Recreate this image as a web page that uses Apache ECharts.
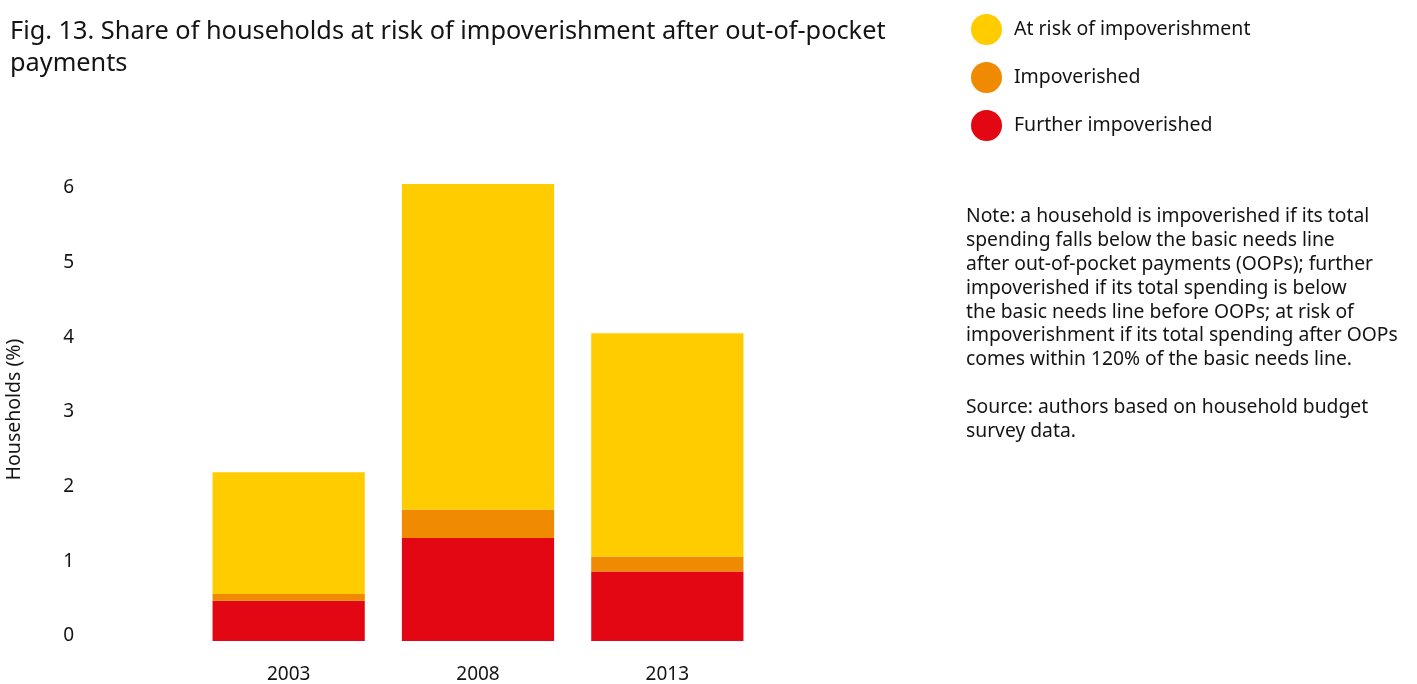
<!DOCTYPE html>
<html>
<head>
<meta charset="utf-8">
<script src="https://cdn.jsdelivr.net/npm/echarts@6/dist/echarts.min.js"></script>
<style>
html,body{margin:0;padding:0;background:#fff;}
#chart{width:1417px;height:684px;}
</style>
</head>
<body>
<div id="chart"></div>
<script>
const years = ['2003', '2008', '2013'];
const furtherImpoverished = [0.54, 1.38, 0.93];
const impoverished = [0.09, 0.38, 0.20];
const atRisk = [1.63, 4.36, 2.99];
const yTicks = [0, 1, 2, 3, 4, 5, 6];

const seriesNames = ['Further impoverished', 'Impoverished', 'At risk of impoverishment'];
const colors = ['#E30613', '#F08A00', '#FFCC00'];
const FONT = '"Noto Sans", sans-serif';
const TXT = '#141414';

const chart = echarts.init(document.getElementById('chart'), null, {renderer: 'canvas'});
const values = [furtherImpoverished, impoverished, atRisk];

chart.setOption({
  animation: false,
  textStyle: {fontFamily: FONT},
  title: {
    text: 'Fig. 13. Share of households at risk of impoverishment after out-of-pocket\npayments',
    left: 5, top: 11,
    textStyle: {fontFamily: FONT, fontSize: 25.3, fontWeight: 'normal', color: TXT, lineHeight: 32}
  },
  legend: {
    orient: 'vertical',
    left: 966, top: 9,
    icon: 'circle',
    itemWidth: 31, itemHeight: 31,
    itemGap: 17,
    data: ['At risk of impoverishment', 'Impoverished', 'Further impoverished'],
    textStyle: {fontFamily: FONT, fontSize: 19.5, color: TXT, padding: [0, 0, 0, 7]}
  },
  graphic: [{
    type: 'text', left: 966, top: 205,
    style: {
      text: 'Note: a household is impoverished if its total\nspending falls below the basic needs line\nafter out-of-pocket payments (OOPs); further\nimpoverished if its total spending is below\nthe basic needs line before OOPs; at risk of\nimpoverishment if its total spending after OOPs\ncomes within 120% of the basic needs line.\n\nSource: authors based on household budget\nsurvey data.',
      font: '19.3px "Noto Sans", sans-serif',
      fill: TXT,
      lineHeight: 23.8
    }
  }],
  grid: {left: 194, right: 1417 - 762, top: 178, bottom: 684 - 646},
  xAxis: {
    type: 'category',
    data: years,
    axisLine: {show: false},
    axisTick: {show: false},
    axisLabel: {fontFamily: FONT, fontSize: 19, color: TXT, margin: 24}
  },
  yAxis: {
    type: 'value',
    min: 0, max: 6.2, interval: 1,
    name: 'Households (%)',
    nameLocation: 'middle',
    nameGap: 170,
    nameTextStyle: {fontFamily: FONT, fontSize: 19.5, color: TXT},
    axisLine: {show: false},
    axisTick: {show: false},
    splitLine: {show: false},
    axisLabel: {
      showMaxLabel: false,
      fontFamily: FONT, fontSize: 19, color: TXT, lineHeight: 10,
      margin: 120, align: 'right', verticalAlign: 'bottom',
      formatter: v => yTicks.includes(v) ? String(v) : ''
    }
  },
  series: seriesNames.map((n, i) => ({
    name: n,
    type: 'bar',
    stack: 'total',
    barCategoryGap: '19.6%',
    itemStyle: {color: colors[i]},
    data: values[i]
  }))
});
</script>
</body>
</html>
